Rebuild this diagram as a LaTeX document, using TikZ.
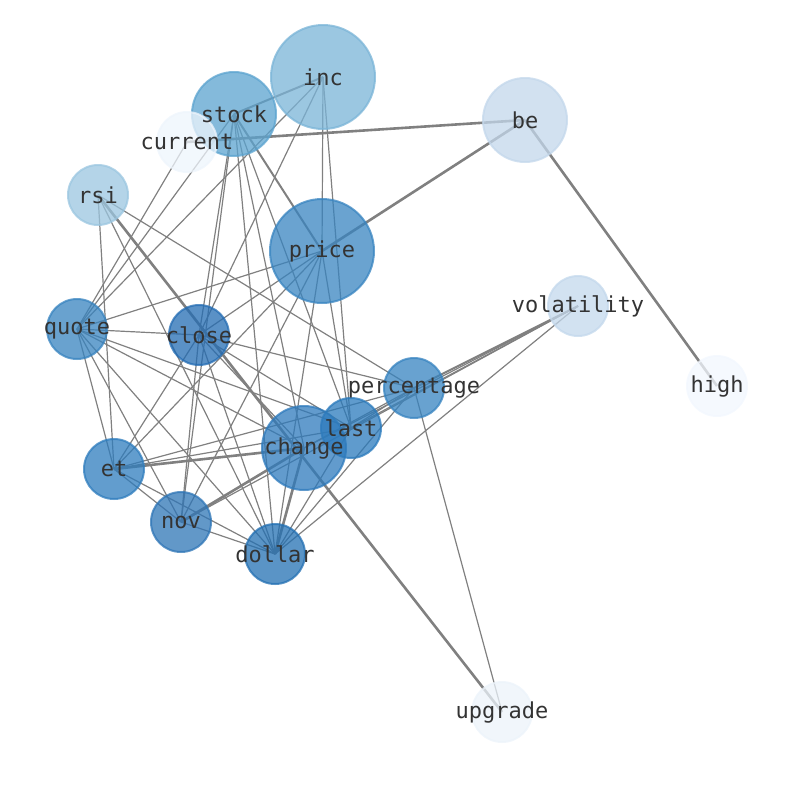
\documentclass[tikz,border=0pt]{standalone}
\usepackage{fontspec}
\setmainfont{DejaVu Sans Mono}
\usetikzlibrary{backgrounds}
\definecolor{cinc}{RGB}{122,180,215}
\definecolor{cstock}{RGB}{91,163,207}
\definecolor{ccurrent}{RGB}{238,245,252}
\definecolor{cbe}{RGB}{195,215,235}
\definecolor{crsi}{RGB}{155,198,224}
\definecolor{cprice}{RGB}{56,132,192}
\definecolor{cquote}{RGB}{55,131,191}
\definecolor{cclose}{RGB}{35,108,179}
\definecolor{cvolatility}{RGB}{195,216,236}
\definecolor{chigh}{RGB}{242,247,254}
\definecolor{cpercentage}{RGB}{54,131,192}
\definecolor{clast}{RGB}{42,122,188}
\definecolor{cchange}{RGB}{46,122,188}
\definecolor{cet}{RGB}{46,124,189}
\definecolor{cnov}{RGB}{46,117,182}
\definecolor{cdollar}{RGB}{35,112,179}
\definecolor{cupgrade}{RGB}{236,243,250}

\begin{document}
\begin{tikzpicture}[x=1pt,y=-1pt,
        word/.style={circle,inner sep=0pt,line width=2pt,fill opacity=.75,draw opacity=.75},
        wordtext/.style={inner sep=0pt,text=black!80,font=\fontsize{22}{26}\selectfont},
        tie/.style={black!50,line width=1.2pt},
        midtie/.style={black!50,line width=2pt},
        bigtie/.style={black!50,line width=2.6pt}]
        \useasboundingbox (0,0) rectangle (794,790);
        \foreach \n/\x/\y/\r in {inc/323/77/52,stock/234/114/42,current/187/142/30,be/525/120/42,
                rsi/98/195/30,price/322/251/52,quote/77/329/30,close/199/335/30,
                volatility/578/306/30,high/717/386/30,percentage/414/388/30,last/351/428/30,
                change/304/448/42,et/114/469/30,nov/181/522/30,dollar/275/554/30,upgrade/502/712/30} {
            \node[word,minimum size={2*\r pt},fill=c\n,draw=c\n] (\n) at (\x,\y) {};
        }
        \foreach \n in {inc,stock,current,be,rsi,price,quote,close,volatility,high,
                percentage,last,change,et,nov,dollar,upgrade}
            \node[wordtext] (\n-text) at (\n) {\n};
        \begin{scope}[on background layer]
            \foreach \a/\b in {inc/quote,inc/close,inc/price,inc/last,
                    stock/quote,stock/close,stock/nov,stock/last,stock/change,stock/dollar,
                    current/quote,rsi/et,rsi/dollar,rsi/percentage,
                    price/quote,price/close,price/et,price/nov,price/last,price/dollar,
                    quote/close,quote/et,quote/nov,quote/dollar,quote/last,quote/change,
                    close/percentage,close/last,close/change,close/et,close/nov,close/dollar,
                    percentage/upgrade,percentage/dollar,percentage/et,percentage/last,
                    last/et,last/volatility,last/dollar,change/volatility,change/percentage,
                    et/nov,et/dollar,nov/dollar,nov/volatility,volatility/dollar} {
                \draw[tie] (\a.center) -- (\b.center);
            }
            \foreach \a/\b in {inc/stock,stock/price,percentage/volatility}
                \draw[midtie] (\a.center) -- (\b.center);
            \foreach \a/\b in {be/high,be/current,be/price,rsi/upgrade,change/nov,change/et,change/dollar}
                \draw[bigtie] (\a.center) -- (\b.center);
        \end{scope}
\end{tikzpicture}
\end{document}
